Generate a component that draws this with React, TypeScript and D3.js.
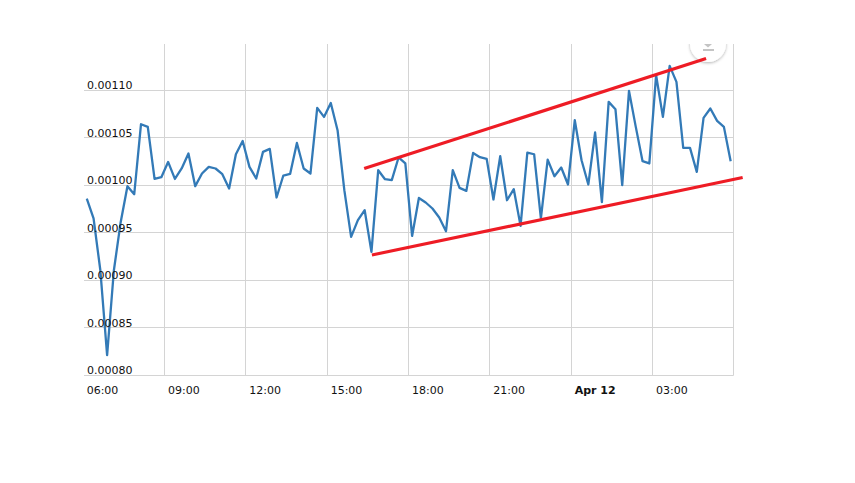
import React from "react";
import * as d3 from "d3";

const W = 855, H = 483;
const startTime = new Date(2021, 3, 11, 6, 8);
const stepMinutes = 15;
// price in units of 1e-5
const prices = [
  98.63, 96.53, 91.08, 82.14, 91.08, 96.14, 99.93, 99.08, 106.45, 106.17, 100.69, 100.87,
  102.48, 100.69, 101.79, 103.37, 99.93, 101.26, 101.96, 101.79, 101.19, 99.68, 103.29, 104.69,
  101.96, 100.74, 103.54, 103.85, 98.74, 101.05, 101.22, 104.48, 101.79, 101.26, 108.17, 107.22,
  108.69, 105.82, 99.51, 94.59, 96.35, 97.4, 93.01, 101.61, 100.66, 100.56, 102.95, 102.32,
  94.69, 98.69, 98.21, 97.58, 96.63, 95.19, 101.61, 99.75, 99.43, 103.43, 102.98, 102.8,
  98.53, 103.08, 98.45, 99.61, 95.75, 103.47, 103.29, 96.53, 102.72, 100.98, 101.89, 100.11,
  106.87, 102.66, 100.11, 105.58, 98.24, 108.8, 108.03, 100.03, 109.96, 106.17, 102.56, 102.32,
  111.61, 107.22, 112.59, 110.91, 103.96, 103.96, 101.43, 107.12, 108.11, 106.8, 106.17, 102.56,
];
const yTicks = [80, 85, 90, 95, 100, 105, 110];
const xTickTimes = [
  new Date(2021, 3, 11, 6), new Date(2021, 3, 11, 9), new Date(2021, 3, 11, 12),
  new Date(2021, 3, 11, 15), new Date(2021, 3, 11, 18), new Date(2021, 3, 11, 21),
  new Date(2021, 3, 12, 0), new Date(2021, 3, 12, 3),
];
const xTickLabels = ["06:00", "09:00", "12:00", "15:00", "18:00", "21:00", "Apr 12", "03:00"];
// trend lines: [series index, price] at both ends
const upperTrend: [number, number][] = [[40.93, 101.79], [91.37, 113.37]];
const lowerTrend: [number, number][] = [[42.07, 92.69], [96.77, 100.84]];

const timeAt = (i: number) => new Date(startTime.getTime() + i * stepMinutes * 60000);

const x = d3.scaleTime()
  .domain([new Date(2021, 3, 11, 9), new Date(2021, 3, 12, 3)])
  .range([164.5, 652.5]);
const y = d3.scaleLinear().domain([80, 110]).range([375.5, 90.5]);

const plotLeft = 84, plotRight = 733.5, plotTop = 44, plotBottom = 375.5;
const font = "Verdana, 'DejaVu Sans', sans-serif";
const crisp = (v: number) => Math.round(v - 0.51) + 0.5;
const lineGen = d3.line<number>().x((_, i) => x(timeAt(i))).y((d) => y(d));
const trendGen = d3.line<[number, number]>().x((d) => x(timeAt(d[0]))).y((d) => y(d[1]));

export default function App() {
  return (
    <svg width={W} height={H} viewBox={`0 0 ${W} ${H}`}
      style={{ position: "absolute", left: 0, top: 0, display: "block", background: "#fff" }}>
      <defs>
        <filter id="btnShadow" x="-40%" y="-40%" width="180%" height="180%">
          <feDropShadow dx="0" dy="1" stdDeviation="1.5" floodColor="#000" floodOpacity="0.3" />
        </filter>
        <clipPath id="topClip"><rect x={0} y={plotTop} width={W} height={H - plotTop} /></clipPath>
      </defs>
      <g stroke="#d4d4d4" strokeWidth={1}>
        {yTicks.map((t) => <line key={t} x1={plotLeft} x2={plotRight} y1={crisp(y(t))} y2={crisp(y(t))} />)}
        {xTickTimes.slice(1).map((t, i) => (
          <line key={i} x1={crisp(x(t))} x2={crisp(x(t))} y1={plotTop} y2={plotBottom} />
        ))}
        <line x1={plotRight} x2={plotRight} y1={plotTop} y2={plotBottom} />
      </g>
      <path d={lineGen(prices) ?? ""} fill="none" stroke="#337ab7" strokeWidth={2.3} strokeLinejoin="round" />
      <g fontFamily={font} fontSize={11} fill="#111">
        {yTicks.map((t) => (
          <text key={t} x={87} y={y(t) - 1.5}>{(t / 100000).toFixed(5)}</text>
        ))}
        {xTickTimes.map((t, i) => (
          <text key={i} x={x(t) + 3.5} y={394} fontWeight={xTickLabels[i] === "Apr 12" ? "bold" : "normal"}>
            {xTickLabels[i]}
          </text>
        ))}
      </g>
      <g clipPath="url(#topClip)">
        <circle cx={708} cy={44} r={18} fill="#fff" filter="url(#btnShadow)" />
        <rect x={703} y={49} width={11} height={2} fill="#c4c4c4" />
        <path d={d3.line()([[704, 44], [712, 44], [708, 47.5]]) + "Z"} fill="#c4c4c4" />
      </g>
      <g fill="none" stroke="#ee1c25" strokeWidth={3.2}>
        <path d={trendGen(upperTrend) ?? ""} />
        <path d={trendGen(lowerTrend) ?? ""} />
      </g>
    </svg>
  );
}
